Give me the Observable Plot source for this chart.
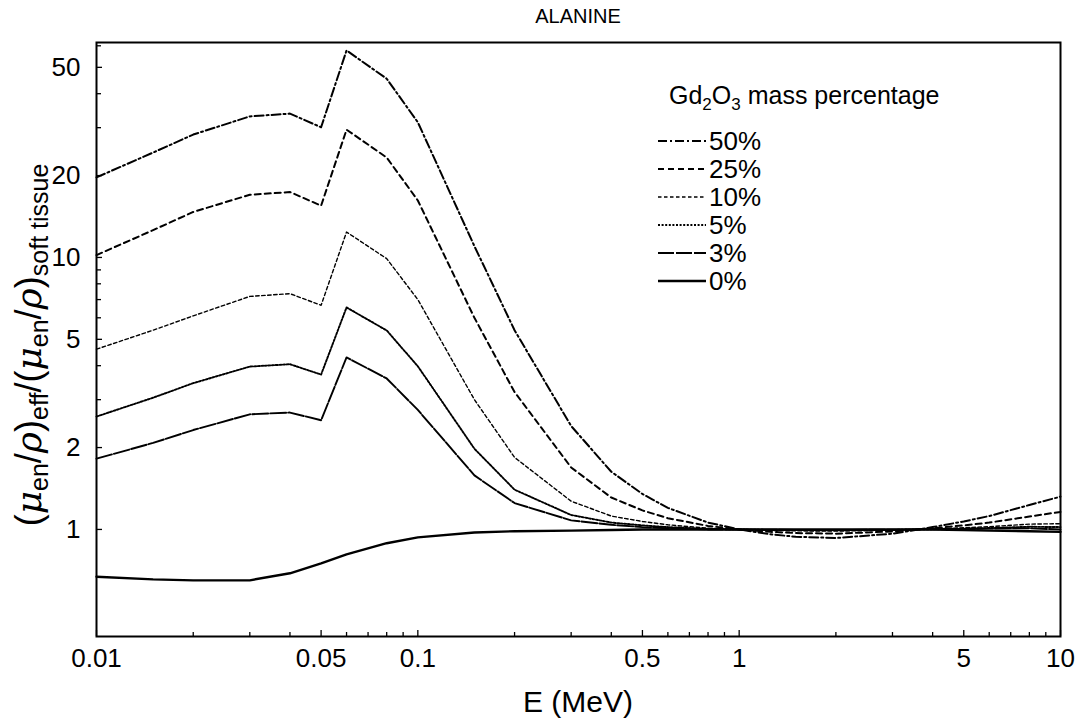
<!DOCTYPE html>
<html><head><meta charset="utf-8">
<script src="https://cdn.jsdelivr.net/npm/d3@7"></script>
<script src="https://cdn.jsdelivr.net/npm/@observablehq/plot@0.6"></script>
<style>
body{margin:0;background:#fff}
svg{font-family:"Liberation Sans",Arial,sans-serif}
</style>
</head><body><div id="chart"></div>
<script>
// Photon energy (MeV)
const energy = [0.01, 0.015, 0.02, 0.03, 0.04, 0.05, 0.06, 0.08, 0.1, 0.15, 0.2, 0.3, 0.4, 0.5, 0.6, 0.8, 1, 1.25, 1.5, 2, 3, 4, 5, 6, 8, 10];
// Ratio (mu_en/rho)_eff / (mu_en/rho)_soft tissue for each Gd2O3 mass percentage
const pct50 = [19.7, 24.3, 28.3, 33.0, 33.8, 30.1, 57.7, 45.4, 31.4, 11.0, 5.4, 2.4, 1.63, 1.35, 1.2, 1.06, 1.0, 0.96, 0.94, 0.93, 0.965, 1.02, 1.07, 1.12, 1.23, 1.32];
const pct25 = [10.2, 12.6, 14.7, 17.0, 17.4, 15.5, 29.5, 23.3, 16.2, 6.0, 3.2, 1.69, 1.31, 1.175, 1.1, 1.03, 1.0, 0.98, 0.97, 0.965, 0.983, 1.01, 1.035, 1.06, 1.115, 1.16];
const pct10 = [4.6, 5.4, 6.1, 7.19, 7.36, 6.67, 12.4, 9.9, 7.0, 3.0, 1.84, 1.27, 1.12, 1.07, 1.04, 1.01, 1.0, 0.992, 0.988, 0.986, 0.993, 1.004, 1.014, 1.024, 1.046, 1.05];
const pct5  = [2.6, 3.05, 3.45, 3.97, 4.05, 3.71, 6.55, 5.39, 3.98, 1.98, 1.40, 1.13, 1.06, 1.035, 1.02, 1.005, 1.0, 0.996, 0.994, 0.993, 0.996, 1.002, 1.007, 1.012, 1.023, 1.02];
const pct3  = [1.82, 2.08, 2.32, 2.65, 2.69, 2.52, 4.29, 3.59, 2.75, 1.58, 1.25, 1.08, 1.04, 1.02, 1.01, 1.0, 1.0, 0.998, 0.996, 0.996, 0.998, 1.001, 1.004, 1.007, 1.01, 1.0];
const pct0  = [0.67, 0.655, 0.65, 0.65, 0.69, 0.75, 0.81, 0.89, 0.935, 0.975, 0.985, 0.99, 0.995, 1.0, 1.0, 1.0, 1.0, 1.0, 1.0, 1.0, 1.0, 1.0, 0.995, 0.99, 0.985, 0.98];

const seriesNames = ["50%", "25%", "10%", "5%", "3%", "0%"];
const seriesValues = [pct50, pct25, pct10, pct5, pct3, pct0];

const xTickLabels = [0.01, 0.05, 0.1, 0.5, 1, 5, 10];
const xMinorTicks = [0.02, 0.03, 0.04, 0.06, 0.07, 0.08, 0.09, 0.2, 0.3, 0.4, 0.6, 0.7, 0.8, 0.9, 2, 3, 4, 6, 7, 8, 9];
const yTickLabels = [1, 2, 5, 10, 20, 50];
const yMinorTicks = [3, 4, 6, 7, 8, 9, 30, 40, 60];

const lineStyle = {
  "50%": {dash: "9,3,2,3", w: 2.0},
  "25%": {dash: "6,4", w: 2.0},
  "10%": {dash: "3.5,2.5", w: 1.4},
  "5%":  {dash: "2,1.6", w: 1.9},
  "3%":  {dash: "16,2", w: 1.9},
  "0%":  {dash: null, w: 2.4}
};

const rows = [];
seriesNames.forEach((name, i) => energy.forEach((e, j) => rows.push({series: name, E: e, R: seriesValues[i][j]})));

const W = 1078, H = 719, mL = 96, mR = 18, mT = 42, mB = 83;
const innerW = W - mL - mR, innerH = H - mT - mB;
const font = '"Liberation Sans", Arial, sans-serif';

const chart = Plot.plot({
  width: W, height: H,
  marginLeft: mL, marginRight: mR, marginTop: mT, marginBottom: mB,
  style: {fontFamily: font, background: "white", color: "black"},
  x: {type: "log", domain: [0.01, 10], axis: null},
  y: {type: "log", domain: [0.404, 61.7], axis: null},
  marks: [
    ...seriesNames.map(name => Plot.line(rows.filter(r => r.series === name), {
      x: "E", y: "R", stroke: "black",
      strokeWidth: lineStyle[name].w,
      strokeDasharray: lineStyle[name].dash
    })),
    Plot.tickX(xMinorTicks, {x: d => d, insetTop: innerH - 4, stroke: "black", strokeWidth: 1.3}),
    Plot.tickX(xTickLabels, {x: d => d, insetTop: innerH - 6, stroke: "black", strokeWidth: 1.3}),
    Plot.tickY(yMinorTicks, {y: d => d, insetRight: innerW - 5, stroke: "black", strokeWidth: 1.3}),
    Plot.tickY(yTickLabels, {y: d => d, insetRight: innerW - 6, stroke: "black", strokeWidth: 1.3}),
    Plot.text(xTickLabels, {x: d => d, frameAnchor: "bottom", dy: 30, text: d => String(d), fontSize: 26, textAnchor: "middle", fill: "black"}),
    Plot.text(yTickLabels, {y: d => d, frameAnchor: "left", dx: -16, text: d => String(d), fontSize: 26, textAnchor: "end", fill: "black"}),
    Plot.frame({stroke: "black", strokeWidth: 2})
  ]
});

document.getElementById("chart").appendChild(chart);
const svg = d3.select(chart);

// Title
svg.append("text").attr("x", mL + innerW / 2).attr("y", 23).attr("text-anchor", "middle")
  .attr("font-size", 20).attr("font-family", font).attr("fill", "black").text("ALANINE");

// X label
svg.append("text").attr("x", mL + innerW / 2).attr("y", 712).attr("text-anchor", "middle")
  .attr("font-size", 30).attr("font-family", font).attr("fill", "black").text("E (MeV)");

// Y label with subscripts
const yl = svg.append("text").attr("transform", "translate(41,345) rotate(-90)")
  .attr("text-anchor", "middle").attr("font-size", 36).attr("font-family", font).attr("fill", "black");
function addPart(t, opts = {}) {
  const ts = yl.append("tspan").text(t);
  if (opts.italic) ts.attr("font-style", "italic").attr("font-family", '"DejaVu Serif", serif');
  if (opts.sub) ts.attr("font-size", 25).attr("dy", 7);
  if (opts.up) ts.attr("dy", -7);
  return ts;
}
addPart("(");
addPart("μ", {italic: true});
addPart("en", {sub: true});
addPart("/", {up: true});
addPart("ρ", {italic: true});
addPart(")");
addPart("eff", {sub: true});
addPart("/", {up: true});
addPart("(");
addPart("μ", {italic: true});
addPart("en", {sub: true});
addPart("/", {up: true});
addPart("ρ", {italic: true});
addPart(")");
addPart("soft tissue", {sub: true});

// Legend
const lg = svg.append("g").attr("font-family", font).attr("fill", "black").attr("text-anchor", "start");
const lt = lg.append("text").attr("x", 669).attr("y", 104).attr("font-size", 25).attr("text-anchor", "start");
lt.append("tspan").text("Gd");
lt.append("tspan").text("2").attr("font-size", 17).attr("dy", 6);
lt.append("tspan").text("O").attr("dy", -6);
lt.append("tspan").text("3").attr("font-size", 17).attr("dy", 6);
lt.append("tspan").text(" mass percentage").attr("dy", -6);

seriesNames.forEach((name, i) => {
  const cy = 141 + i * 28;
  lg.append("line").attr("x1", 658).attr("x2", 706).attr("y1", cy).attr("y2", cy)
    .attr("stroke", "black").attr("stroke-width", lineStyle[name].w)
    .attr("stroke-dasharray", lineStyle[name].dash);
  lg.append("text").attr("x", 709).attr("y", cy + 9).attr("font-size", 26)
    .attr("text-anchor", "start").text(name);
});
</script>
</body></html>
